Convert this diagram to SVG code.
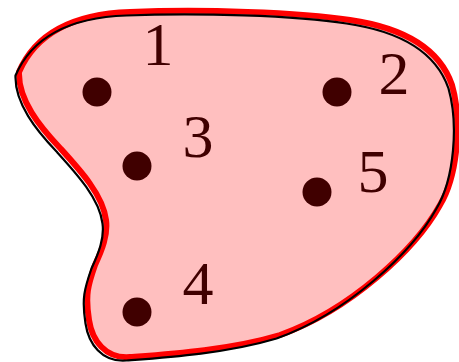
<svg xmlns="http://www.w3.org/2000/svg" width="459" height="362" viewBox="0 0 459 362">
<style>
.dot{fill:#400000}
.lbl{font-family:"Liberation Serif","Times New Roman",serif;font-size:62px;fill:#400000;text-anchor:middle}
</style>
<defs>
<path id="blob" d="M 19,72 C 35,35 70,14 130,12 C 200,9 300,12 350,20 C 405,28 440,50 452,85 C 462,120 458,175 440,205 C 415,250 350,310 280,335 C 230,350 170,354 130,357 C 105,359 92,340 89,320 C 85,295 88,285 95,265 C 102,250 108,235 106,220 C 103,195 80,170 60,148 C 40,127 18,100 19,72 Z"/>
</defs>
<rect width="459" height="362" fill="#ffffff"/>
<g id="region">
<use href="#blob" fill="#ffbfbf" stroke="#ff0000" stroke-width="6" stroke-linejoin="round"/>
<use href="#blob" fill="none" stroke="#000000" stroke-width="2.2" stroke-linejoin="round" transform="translate(-3.5,3.5)"/>
</g>
<g id="connectors"/>
<g id="node1"><circle class="dot" cx="97" cy="92" r="14.5"/><text class="lbl" x="158" y="65">1</text></g>
<g id="node2"><circle class="dot" cx="337" cy="92" r="14.5"/><text class="lbl" x="394" y="94">2</text></g>
<g id="node3"><circle class="dot" cx="137" cy="166" r="14.5"/><text class="lbl" x="198" y="157">3</text></g>
<g id="node4"><circle class="dot" cx="137" cy="312" r="14.5"/><text class="lbl" x="198" y="304">4</text></g>
<g id="node5"><circle class="dot" cx="317" cy="192" r="14.5"/><text class="lbl" x="373" y="192">5</text></g>
</svg>
